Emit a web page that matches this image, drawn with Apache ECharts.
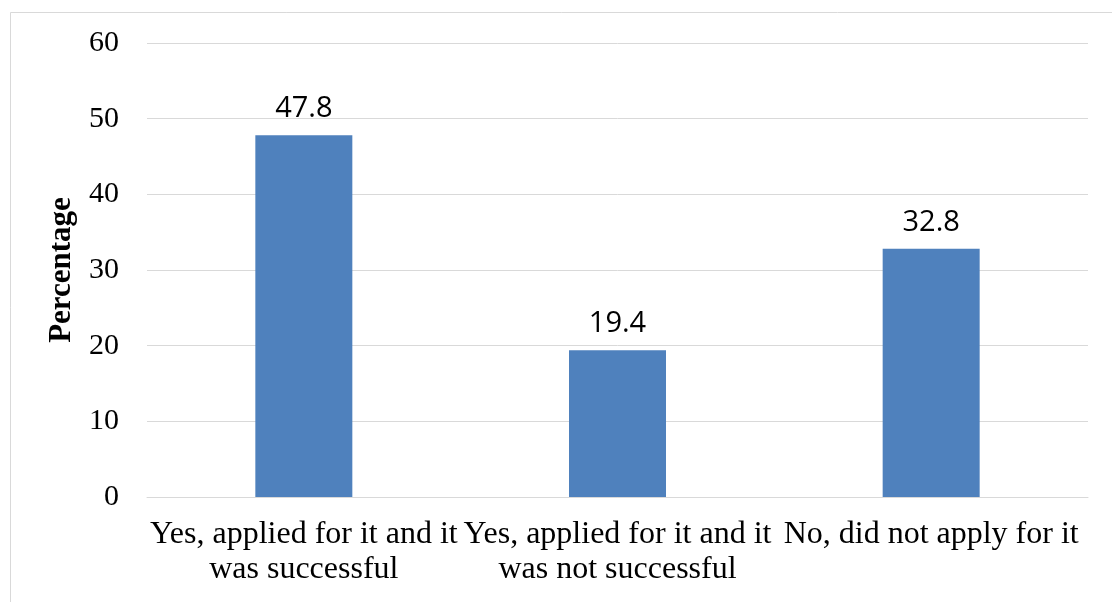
<!DOCTYPE html>
<html>
<head>
<meta charset="utf-8">
<script src="https://cdn.jsdelivr.net/npm/echarts@6/dist/echarts.min.js"></script>
<style>
html,body{margin:0;padding:0;background:#fff;}
#chart{width:1112px;height:602px;}
</style>
</head>
<body>
<div id="chart"></div>
<script>
const categories = [
  "Yes, applied for it and it\nwas successful",
  "Yes, applied for it and it\nwas not successful",
  "No, did not apply for it"
];
const values = [47.8, 19.4, 32.8];
const yAxisName = "Percentage";
const yMin = 0, yMax = 60, yStep = 10;

const chart = echarts.init(document.getElementById('chart'), null, {renderer: 'canvas'});
chart.setOption({
  animation: false,
  backgroundColor: '#fff',
  graphic: [{
    type: 'rect',
    shape: {x: 10.5, y: 12.5, width: 1300, height: 800},
    style: {fill: 'none', stroke: '#d9d9d9', lineWidth: 1},
    silent: true
  }],
  grid: {left: 147, right: 24, top: 43, bottom: 105, containLabel: false},
  xAxis: {
    type: 'category',
    data: categories,
    axisLine: {show: true, lineStyle: {color: '#d9d9d9', width: 1}},
    axisTick: {show: false},
    axisLabel: {
      fontFamily: '"Liberation Serif", "Times New Roman", serif',
      fontSize: 32,
      color: '#000',
      lineHeight: 35,
      margin: 20,
      interval: 0
    }
  },
  yAxis: {
    type: 'value',
    min: yMin, max: yMax, interval: yStep,
    name: yAxisName,
    nameLocation: 'middle',
    nameRotate: 90,
    nameGap: 70,
    nameTextStyle: {
      fontFamily: '"Liberation Serif", "Times New Roman", serif',
      fontWeight: 'bold',
      fontSize: 31,
      color: '#000'
    },
    axisLine: {show: false},
    axisTick: {show: false},
    splitLine: {lineStyle: {color: '#d9d9d9', width: 1}},
    axisLabel: {
      fontFamily: '"Liberation Serif", "Times New Roman", serif',
      fontSize: 30,
      color: '#000',
      margin: 28
    }
  },
  series: [{
    type: 'bar',
    data: values,
    barWidth: 97,
    itemStyle: {color: '#4f81bd'},
    label: {
      show: true,
      position: 'top',
      distance: 12,
      fontFamily: '"Open Sans", sans-serif',
      fontSize: 29,
      color: '#000',
      formatter: p => p.value.toFixed(1)
    }
  }]
});
</script>
</body>
</html>
